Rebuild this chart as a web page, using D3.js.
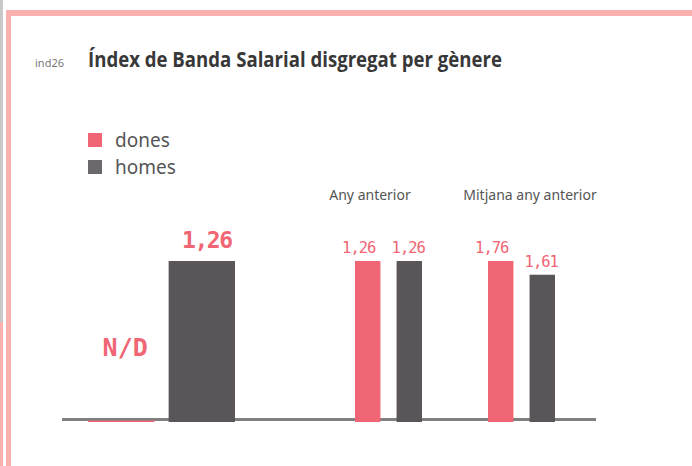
<!DOCTYPE html>
<html>
<head>
<meta charset="utf-8">
<script src="https://cdn.jsdelivr.net/npm/d3@7"></script>
<style>
  html, body { margin: 0; padding: 0; background: #fff; }
  svg { display: block; }
</style>
</head>
<body>
<svg id="chart" width="692" height="466"></svg>
<script>
// data
var groups = ["actual", "Any anterior", "Mitjana any anterior"];
var series = ["dones", "homes"];
var dones = [null, 1.26, 1.76];
var homes = [1.26, 1.26, 1.61];
var valueLabels = [["N/D", "1,26"], ["1,26", "1,26"], ["1,76", "1,61"]];

// styles / layout
var colors = { dones: "#f06674", homes: "#5a5559" };
var legendColors = { dones: "#f06674", homes: "#6b696e" };
var groupCenter = d3.scaleOrdinal().domain(groups).range([161.5, 388.5, 521.5]);
var groupWidth = d3.scaleOrdinal().domain(groups).range([147, 67, 67]);
var titleCenter = d3.scaleOrdinal().domain(groups).range([161.5, 370, 530]);
var baseY = 422, topY = 261;

var svg = d3.select("#chart");

// frame
svg.append("rect").attr("x", 0).attr("y", 0).attr("width", 3).attr("height", 322).attr("fill", "#c8c8c8");
svg.append("rect").attr("x", 0).attr("y", 322).attr("width", 3).attr("height", 144).attr("fill", "#fbb0b0");
svg.append("rect").attr("x", 6).attr("y", 10).attr("width", 686).attr("height", 6).attr("fill", "#fbb0b0");
svg.append("rect").attr("x", 6).attr("y", 10).attr("width", 5).attr("height", 456).attr("fill", "#fbb0b0");

// title
svg.append("text").attr("x", 35).attr("y", 67)
  .style("font-family", "'Noto Sans', sans-serif").style("font-size", "11px")
  .attr("fill", "#777").text("ind26");
svg.append("text").attr("x", 88).attr("y", 67)
  .attr("textLength", 414).attr("lengthAdjust", "spacingAndGlyphs")
  .style("font-family", "'Liberation Sans Narrow', 'Open Sans', sans-serif")
  .style("font-size", "21px").style("font-weight", "bold")
  .attr("fill", "#383838").text("Índex de Banda Salarial disgregat per gènere");

// legend
var legend = svg.selectAll("g.legend").data(series).enter().append("g")
  .attr("class", "legend")
  .attr("transform", function(d, i) { return "translate(88," + (133 + i * 27) + ")"; });
legend.append("rect").attr("width", 14).attr("height", 14)
  .attr("fill", function(d) { return legendColors[d]; });
legend.append("text").attr("x", 27).attr("y", 14)
  .style("font-family", "'Noto Sans', sans-serif").style("font-size", "19px")
  .attr("fill", "#555").text(function(d) { return d; });

// group titles
svg.selectAll("text.gtitle").data(groups.slice(1)).enter().append("text")
  .attr("class", "gtitle")
  .attr("x", function(d) { return titleCenter(d); }).attr("y", 200)
  .attr("text-anchor", "middle")
  .style("font-family", "'Noto Sans', sans-serif").style("font-size", "14px")
  .attr("fill", "#555").text(function(d) { return d; });

// baseline
svg.append("rect").attr("x", 62).attr("y", 418).attr("width", 534).attr("height", 3).attr("fill", "#808080");

// bars, each group on its own scale
var rows = groups.map(function(g, i) {
  return { group: g, i: i, values: [
    { key: "dones", value: dones[i], label: valueLabels[i][0] },
    { key: "homes", value: homes[i], label: valueLabels[i][1] }
  ] };
});

var gSel = svg.selectAll("g.group").data(rows).enter().append("g").attr("class", "group");

gSel.each(function(row) {
  var g = d3.select(this);
  var w = groupWidth(row.group);
  var x = d3.scaleBand().domain(series)
    .range([groupCenter(row.group) - w / 2, groupCenter(row.group) + w / 2])
    .paddingInner(13 / (w / 2));
  var y = d3.scaleLinear()
    .domain([0, d3.max(row.values, function(d) { return d.value || 0; })])
    .range([baseY, topY]);
  var big = row.i === 0;

  g.selectAll("rect").data(row.values).enter().append("rect")
    .attr("x", function(d) { return x(d.key); })
    .attr("width", x.bandwidth())
    .attr("y", function(d) { return d.value == null ? baseY - 1.5 : y(d.value); })
    .attr("height", function(d) { return d.value == null ? 1.5 : baseY - y(d.value); })
    .attr("fill", function(d) { return colors[d.key]; });

  g.selectAll("text").data(row.values).enter().append("text")
    .attr("x", function(d) {
      var c = x(d.key) + x.bandwidth() / 2;
      if (big) return c + (d.value == null ? 4 : 5);
      return c + (d.key === "dones" ? -9 : -1);
    })
    .attr("y", function(d) {
      if (d.value == null) return 356;
      return y(d.value) - (big ? 13 : 8);
    })
    .attr("text-anchor", "middle")
    .style("font-family", "'DejaVu Sans Mono', monospace")
    .style("font-size", function(d) { return big ? (d.value == null ? "25px" : "23px") : "15.5px"; })
    .style("letter-spacing", function(d) { return big ? (d.value == null ? "0px" : "-1.5px") : "-1px"; })
    .style("font-weight", big ? "bold" : "normal")
    .attr("fill", "#f06674")
    .text(function(d) { return d.label; });
});
</script>
</body>
</html>
